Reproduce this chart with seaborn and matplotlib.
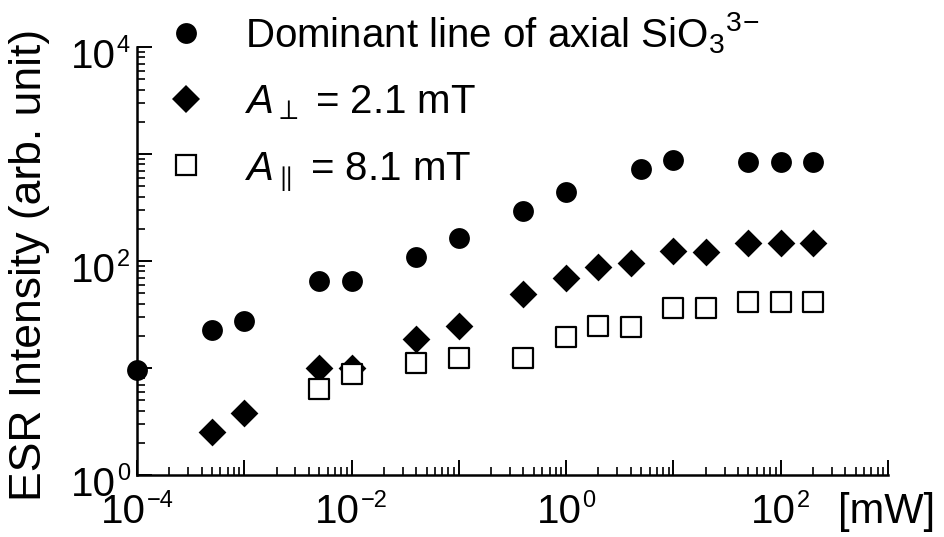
import matplotlib
matplotlib.use("Agg")
import matplotlib.pyplot as plt
import matplotlib.ticker as mticker
from matplotlib.lines import Line2D
from matplotlib.transforms import blended_transform_factory
import numpy as np
import pandas as pd
import seaborn as sns

# Microwave power [mW] and ESR intensities (arb. unit)
power_dominant = [1e-4, 5e-4, 1e-3, 5e-3, 1e-2, 0.04, 0.1, 0.4, 1, 5, 10, 50, 100, 200]
int_dominant = [9.6, 22.6, 27.5, 65, 65, 109, 164, 293, 441, 724, 879, 842, 842, 840]

power_perp = [5e-4, 1e-3, 5e-3, 1e-2, 0.04, 0.1, 0.4, 1, 2, 4, 10, 20, 50, 100, 200]
int_perp = [2.5, 3.8, 10, 10, 18.7, 24.7, 49, 69, 88, 96, 124, 121, 147, 147, 147]

power_par = [5e-3, 1e-2, 0.04, 0.1, 0.4, 1, 2, 4, 10, 20, 50, 100, 200]
int_par = [6.4, 8.8, 11.1, 12.4, 12.4, 19.5, 24.7, 24.2, 36.4, 36.4, 41.4, 41.4, 41]

labels = [
    r"Dominant line of axial SiO$_3$$^{3\!-}$",
    r"$A_{\perp}$ = 2.1 mT",
    r"$A_{\parallel}$ = 8.1 mT",
]

# decades that carry a "10^n" label
x_label_exponents = [-4, -2, 0, 2]
y_label_exponents = [0, 2, 4]

sns.set_theme(style="ticks")
plt.rcParams["font.family"] = ["Liberation Sans", "DejaVu Sans"]
plt.rcParams["mathtext.fontset"] = "custom"
plt.rcParams["mathtext.rm"] = "Liberation Sans"
plt.rcParams["mathtext.it"] = "Liberation Sans:italic"
plt.rcParams["mathtext.sf"] = "Liberation Sans"
for key in ("text.color", "axes.labelcolor", "xtick.color", "ytick.color", "axes.edgecolor"):
    plt.rcParams[key] = "black"

fig = plt.figure(figsize=(9.44, 5.37), dpi=100)
ax = fig.add_axes([0.1451, 0.1155, 0.7956, 0.797])

d1 = pd.DataFrame({"p": power_dominant, "i": int_dominant})
d2 = pd.DataFrame({"p": power_perp, "i": int_perp})
d3 = pd.DataFrame({"p": power_par, "i": int_par})

sns.scatterplot(data=d1, x="p", y="i", ax=ax, marker="o", s=225,
                color="black", edgecolor="black", linewidth=0, clip_on=False, zorder=3)
sns.scatterplot(data=d2, x="p", y="i", ax=ax, marker="D", s=200,
                color="black", edgecolor="black", linewidth=0, clip_on=False, zorder=3)
sns.scatterplot(data=d3, x="p", y="i", ax=ax, marker="s", s=200,
                facecolor="white", edgecolor="black", linewidth=1.6, clip_on=False, zorder=4)

ax.set_xscale("log")
ax.set_yscale("log")
ax.set_xlim(1e-4, 1e3)
ax.set_ylim(1e0, 1e4)

for axis in (ax.xaxis, ax.yaxis):
    axis.set_major_locator(mticker.LogLocator(base=10, numticks=20))
    axis.set_minor_locator(mticker.LogLocator(base=10, subs=np.arange(2, 10), numticks=20))
    axis.set_major_formatter(mticker.NullFormatter())
    axis.set_minor_formatter(mticker.NullFormatter())

ax.tick_params(which="major", direction="in", length=11, width=1.4)
ax.tick_params(which="minor", direction="in", length=6, width=1.2)

sns.despine(ax=ax)
for side in ("left", "bottom"):
    ax.spines[side].set_linewidth(1.8)

ax.set_xlabel("")
ax.set_ylabel("ESR Intensity (arb. unit)", fontsize=32)
ax.yaxis.set_label_coords(-0.116, 0.49)

# power-of-ten labels: "10" with a smaller raised exponent
BASE_FS, EXP_FS = 29, 17
BASE_DROP, EXP_RISE = 21, 16  # pixels
fig.canvas.draw()
renderer = fig.canvas.get_renderer()


def exponent_text(e):
    return ("\u2212%d" % -e) if e < 0 else "%d" % e


xt = blended_transform_factory(ax.transData, ax.transAxes)
for e in x_label_exponents:
    base = ax.annotate("10", xy=(10.0 ** e, 0), xycoords=xt, xytext=(0, -48),
                       textcoords="offset pixels", ha="left", va="baseline",
                       fontsize=BASE_FS, annotation_clip=False)
    sup = ax.annotate(exponent_text(e), xy=(10.0 ** e, 0), xycoords=xt, xytext=(0, -48 + EXP_RISE),
                      textcoords="offset pixels", ha="left", va="baseline",
                      fontsize=EXP_FS, annotation_clip=False)
    wb = base.get_window_extent(renderer).width
    ws = sup.get_window_extent(renderer).width
    total = wb + 1 + ws
    base.xyann = (-total / 2, -48)
    sup.xyann = (-total / 2 + wb + 1, -48 + EXP_RISE)

yt = blended_transform_factory(ax.transAxes, ax.transData)
for e in y_label_exponents:
    sup = ax.annotate(exponent_text(e), xy=(0, 10.0 ** e), xycoords=yt,
                      xytext=(-7, -BASE_DROP + EXP_RISE), textcoords="offset pixels",
                      ha="right", va="baseline", fontsize=EXP_FS, annotation_clip=False)
    ws = sup.get_window_extent(renderer).width
    ax.annotate("10", xy=(0, 10.0 ** e), xycoords=yt, xytext=(-7 - ws - 1, -BASE_DROP),
                textcoords="offset pixels", ha="right", va="baseline",
                fontsize=BASE_FS, annotation_clip=False)

fig.text(838 / 944, 1 - 523 / 537, "[mW]", fontsize=30, ha="left", va="baseline")

handles = [
    Line2D([], [], linestyle="none", marker="o", markersize=15,
           markerfacecolor="black", markeredgecolor="black", markeredgewidth=0),
    Line2D([], [], linestyle="none", marker="D", markersize=14,
           markerfacecolor="black", markeredgecolor="black", markeredgewidth=0),
    Line2D([], [], linestyle="none", marker="s", markersize=14,
           markerfacecolor="white", markeredgecolor="black", markeredgewidth=1.6),
]
ax.legend(handles, labels, loc="upper left", bbox_to_anchor=(166 / 944, 1 - 10 / 537),
          bbox_transform=fig.transFigure, frameon=False, fontsize=29,
          handlelength=1.0, handletextpad=0.97, labelspacing=0.68, borderpad=0,
          borderaxespad=0)

fig.savefig("out.png", dpi=100, facecolor="white")
